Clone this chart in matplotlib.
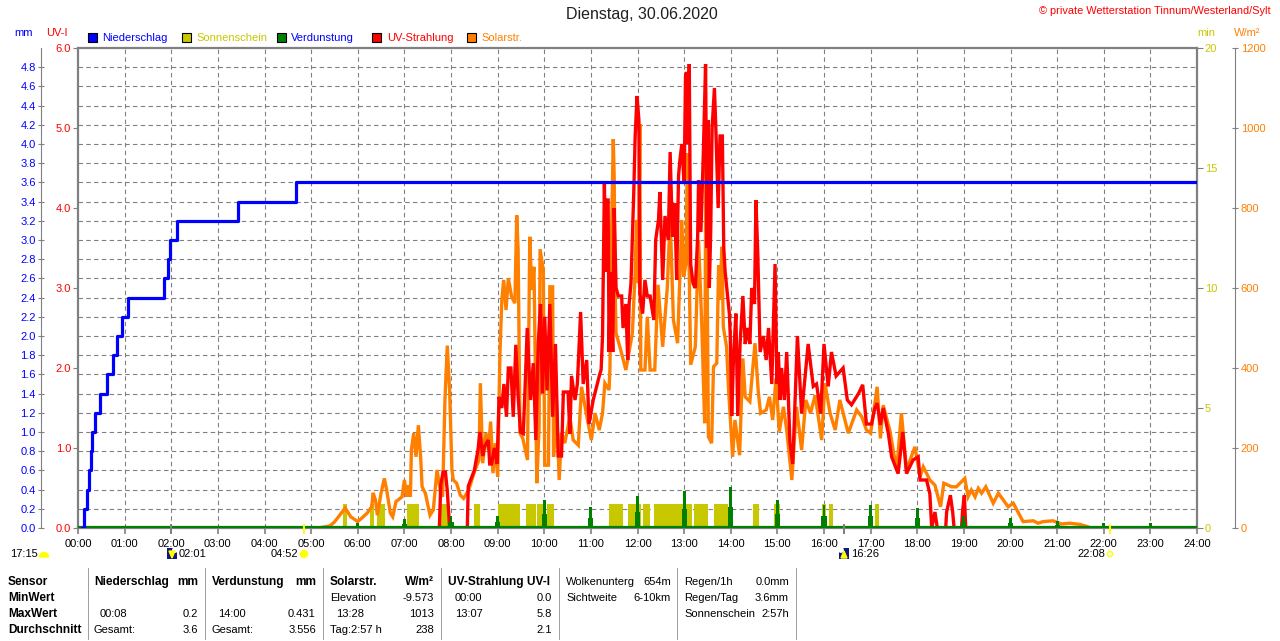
import matplotlib
matplotlib.use("Agg")
import matplotlib.pyplot as plt
from matplotlib.patches import Rectangle, Circle, Polygon, Wedge
from matplotlib.transforms import IdentityTransform

plt.rcParams['font.family'] = ['Liberation Sans', 'DejaVu Sans']

nan = float('nan')

# Niederschlag, cumulated (h, mm)
rain_t = [0.08, 0.13, 0.2, 0.24, 0.27, 0.3, 0.36, 0.47, 0.62, 0.75, 0.84, 0.94, 1.07, 1.84, 1.93, 1.97, 2.12, 3.43, 4.68, 24]
rain_v = [0, 0.2, 0.4, 0.6, 0.8, 1.0, 1.2, 1.4, 1.6, 1.8, 2.0, 2.2, 2.4, 2.6, 2.8, 3.0, 3.2, 3.4, 3.6, 3.6]

# Verdunstung per hour (mm)
evap_h = [1, 2, 3, 4, 5, 6, 7, 8, 9, 10, 11, 12, 13, 14, 15, 16, 17, 18, 19, 20, 21, 22, 23]
evap_v = [0.01, 0.02, 0.01, 0.01, 0.01, 0.05, 0.09, 0.12, 0.12, 0.295, 0.215, 0.33, 0.39, 0.431, 0.29, 0.24, 0.24, 0.21, 0.13, 0.1, 0.07, 0.05, 0.05]

# Sonnenschein blocks (h)
sun_start = [5.69, 6.26, 6.41, 7.06, 7.79, 8.49, 9.01, 9.61, 9.84, 10.06, 11.39, 11.8, 12.12, 12.36, 13.21, 13.64, 14.48, 14.93, 15.96, 16.11, 17.09]
sun_end = [5.76, 6.35, 6.58, 7.31, 7.93, 8.62, 9.48, 9.82, 9.98, 10.21, 11.69, 12.08, 12.27, 13.17, 13.51, 13.94, 14.61, 15.06, 16.04, 16.19, 17.18]

# Solarstrahlung (h, W/m2)
solar_t = [5.15, 5.4, 5.5, 5.6, 5.73, 5.85, 6.0, 6.08, 6.2, 6.3, 6.33, 6.38, 6.42, 6.5, 6.57, 6.62, 6.7, 6.75, 6.82, 6.95,
           7.0, 7.05, 7.08, 7.13, 7.15, 7.2, 7.25, 7.3, 7.35, 7.38, 7.45, 7.55, 7.62, 7.7, 7.78, 7.82, 7.87, 7.92, 7.97, 8.02,
           8.05, 8.12, 8.2, 8.27, 8.38, 8.5, 8.6, 8.63, 8.68, 8.75, 8.8, 8.85, 8.9, 8.95, 9.0, 9.05, 9.09, 9.13, 9.18, 9.23,
           9.3, 9.37, 9.41, 9.44, 9.48, 9.54, 9.64, 9.69, 9.73, 9.78, 9.84, 9.89, 9.91, 9.98, 10.01, 10.09, 10.12, 10.18, 10.2, 10.26,
           10.32, 10.37, 10.44, 10.55, 10.62, 10.73, 10.8, 10.9, 11.01, 11.09, 11.18, 11.25, 11.3, 11.39, 11.41, 11.44, 11.48, 11.5, 11.52, 11.54,
           11.64, 11.75, 11.89, 11.95, 11.98, 12.02, 12.05, 12.07, 12.16, 12.21, 12.27, 12.37, 12.44, 12.54, 12.64, 12.7, 12.77, 12.86, 12.95, 12.99,
           13.04, 13.07, 13.14, 13.24, 13.31, 13.38, 13.44, 13.47, 13.49, 13.52, 13.59, 13.63, 13.7, 13.74, 13.77, 13.81, 13.84, 13.91, 13.95, 14.04,
           14.09, 14.19, 14.26, 14.31, 14.41, 14.52, 14.59, 14.64, 14.76, 14.83, 14.9, 14.97, 15.04, 15.13, 15.2, 15.31, 15.41, 15.52, 15.61, 15.71,
           15.81, 15.95, 16.02, 16.13, 16.24, 16.34, 16.52, 16.7, 16.81, 16.91, 17.0, 17.14, 17.21, 17.27, 17.41, 17.56, 17.66, 17.77, 17.95, 18.06,
           18.13, 18.27, 18.38, 18.5, 18.57, 18.74, 18.84, 19.02, 19.09, 19.16, 19.24, 19.31, 19.38, 19.47, 19.63, 19.74, 19.95, 20.06, 20.27, 20.49,
           20.59, 20.7, 20.91, 21.09, 21.27, 21.49, 21.66, 21.72]
solar_v = [0, 5, 15, 30, 50, 28, 16, 24, 37, 53, 88, 70, 32, 87, 124, 95, 37, 28, 66, 78,
           120, 78, 107, 78, 195, 237, 178, 257, 175, 103, 87, 32, 45, 145, 87, 78, 320, 456, 345, 145,
           120, 112, 82, 74, 95, 140, 170, 362, 162, 237, 195, 266, 137, 212, 128, 437, 570, 620, 545, 624,
           578, 562, 782, 695, 237, 224, 170, 728, 595, 653, 112, 253, 697, 645, 157, 157, 603, 603, 178, 320,
           120, 237, 212, 278, 220, 207, 353, 287, 220, 287, 245, 287, 362, 345, 403, 712, 972, 877, 595, 487,
           445, 395, 487, 640, 770, 612, 1010, 395, 395, 528, 395, 395, 608, 453, 603, 777, 520, 462, 770, 628,
           662, 937, 408, 453, 720, 503, 262, 1013, 695, 228, 212, 403, 412, 657, 570, 703, 503, 453, 353, 178,
           270, 182, 424, 328, 316, 462, 341, 287, 295, 328, 270, 374, 241, 303, 245, 120, 303, 195, 320, 287,
           332, 220, 362, 287, 245, 320, 237, 295, 278, 245, 237, 353, 224, 307, 245, 145, 287, 145, 203, 128,
           153, 120, 107, 53, 112, 103, 103, 124, 78, 95, 78, 99, 87, 103, 62, 87, 53, 62, 16, 18,
           12, 16, 18, 10, 12, 9, 3, 0]

# UV-Strahlung (h, UV-I), nan where the curve stays on the zero line
uv_t = [7.75, 7.78, 7.83, 7.88, 7.92, 7.97, 8.1, 8.35, 8.37, 8.42, 8.5, 8.58, 8.62, 8.68, 8.72, 8.8, 8.83, 8.87, 8.93, 8.99,
        9.03, 9.09, 9.135, 9.19, 9.23, 9.285, 9.335, 9.39, 9.44, 9.49, 9.55, 9.585, 9.635, 9.705, 9.765, 9.82, 9.87, 9.92, 9.96, 10.01,
        10.06, 10.12, 10.18, 10.24, 10.3, 10.37, 10.41, 10.51, 10.55, 10.585, 10.66, 10.71, 10.78, 10.835, 10.91, 10.96, 11.05, 11.18, 11.22, 11.25,
        11.27, 11.29, 11.32, 11.34, 11.37, 11.39, 11.42, 11.47, 11.5, 11.54, 11.59, 11.66, 11.69, 11.75, 11.79, 11.82, 11.86, 11.89, 11.92, 11.95,
        11.99, 12.03, 12.05, 12.11, 12.16, 12.21, 12.27, 12.35, 12.39, 12.45, 12.48, 12.54, 12.59, 12.66, 12.7, 12.75, 12.8, 12.84, 12.88, 12.91,
        12.95, 13.0, 13.03, 13.05, 13.08, 13.11, 13.14, 13.19, 13.24, 13.29, 13.31, 13.36, 13.41, 13.46, 13.49, 13.52, 13.54, 13.57, 13.6, 13.65,
        13.68, 13.73, 13.77, 13.82, 13.85, 13.88, 13.97, 13.99, 14.02, 14.06, 14.11, 14.15, 14.2, 14.26, 14.31, 14.36, 14.41, 14.45, 14.51, 14.54,
        14.58, 14.63, 14.7, 14.76, 14.81, 14.88, 14.95, 14.99, 15.02, 15.06, 15.09, 15.15, 15.2, 15.27, 15.33, 15.43, 15.52, 15.66, 15.77, 15.84,
        15.93, 16.0, 16.09, 16.16, 16.26, 16.41, 16.5, 16.59, 16.74, 16.83, 16.91, 17.02, 17.09, 17.14, 17.21, 17.27, 17.38, 17.45, 17.59, 17.69,
        17.77, 17.91, 18.02, 18.06, 18.2, 18.27, 18.31, 18.38, 18.43, 18.5, 18.61, 18.63, 18.71, 18.76, 18.79, 18.9, 18.95, 18.97, 19.01, 19.04]
uv_v = [0, 0.54, 0.7, 0.7, 0.47, 0, nan, 0, 0.52, 0.6, 0.72, 0.98, 1.2, 0.9, 1.02, 1.1, 0.8, 0.8, 1.0, 0.8,
        1.64, 1.5, 1.8, 1.39, 2.0, 2.0, 1.39, 2.29, 1.64, 1.2, 1.18, 1.7, 2.5, 1.6, 2.06, 1.1, 2.29, 2.8, 1.68, 2.64,
        1.72, 2.8, 1.39, 2.3, 0.9, 0.9, 1.7, 1.7, 1.18, 1.9, 1.6, 1.8, 2.7, 1.8, 2.1, 1.3, 1.6, 1.9, 1.98, 2.4,
        3.39, 4.3, 3.2, 4.1, 4.1, 2.2, 3.2, 2.2, 4.0, 3.0, 2.9, 2.9, 2.5, 2.8, 2.1, 2.8, 3.06, 3.64, 4.2, 4.9,
        5.4, 5.1, 2.93, 2.68, 3.1, 2.9, 2.9, 2.6, 3.6, 3.85, 4.2, 3.1, 3.9, 3.6, 4.7, 3.64, 4.06, 3.1, 4.4, 4.6,
        4.8, 4.3, 5.64, 5.7, 4.8, 5.8, 3.3, 3.06, 3.0, 3.64, 4.35, 3.7, 4.64, 5.8, 3.5, 5.1, 3.0, 3.7, 5.0, 5.5,
        5.0, 4.0, 4.9, 4.9, 3.5, 3.2, 2.68, 2.4, 1.4, 2.14, 2.68, 1.4, 2.3, 2.9, 2.3, 2.5, 2.3, 3.0, 2.8, 4.1,
        3.43, 2.2, 2.4, 2.1, 2.5, 1.8, 3.3, 1.8, 2.2, 1.6, 2.0, 1.6, 2.2, 1.06, 0.8, 2.4, 1.43, 2.3, 1.77, 1.8,
        1.43, 2.3, 1.77, 2.2, 1.9, 2.0, 1.6, 1.54, 1.68, 1.79, 1.3, 1.3, 1.5, 1.56, 1.29, 1.5, 1.18, 0.89, 0.68, 1.2,
        0.68, 0.85, 0.89, 0.6, 0.6, 0.43, 0, 0.2, 0, nan, 0, 0.2, 0.41, 0.2, 0, nan, 0, 0.2, 0.41, 0]

hour_labels = ['%02d:00' % h for h in range(25)]
mm_ticks = [i * 0.2 for i in range(25)]
uv_ticks = [0, 1, 2, 3, 4, 5, 6]
min_ticks = [0, 5, 10, 15, 20]
wm_ticks = [0, 200, 400, 600, 800, 1000, 1200]

BLUE = '#0000ff'
RED = '#ff0000'
ORANGE = '#ff8000'
OLIVE = '#c8c800'
GREEN = '#008000'
GREY = '#808080'
W, H = 1280, 641
FS = 8
BOLD = 8.6

fig = plt.figure(figsize=(W / 100, H / 100), dpi=100, facecolor='white')
rect = [78 / W, (H - 528) / H, (1197 - 78) / W, 480 / H]

# one axes per scale, later ones draw on top
ax_min = fig.add_axes(rect)
ax_solar = fig.add_axes(rect, sharex=ax_min)
ax_uv = fig.add_axes(rect, sharex=ax_min)
ax_mm = fig.add_axes(rect, sharex=ax_min)

ax_min.set_xlim(0, 24)
ax_min.set_ylim(0, 20)
ax_solar.set_ylim(0, 1200)
ax_uv.set_ylim(0, 6)
ax_mm.set_ylim(0, 5)

# grid
for h in range(1, 24):
    ax_min.axvline(h, color=GREY, lw=0.8, dashes=(4, 3), zorder=0)
for v in mm_ticks[1:]:
    ax_min.axhline(v * 4, color=GREY, lw=0.8, dashes=(4, 3), zorder=0)

# sunshine bars
widths = [e - s for s, e in zip(sun_start, sun_end)]
ax_min.bar(sun_start, [1] * len(sun_start), width=widths, align='edge', color=OLIVE, zorder=2)

ax_solar.plot(solar_t, solar_v, color=ORANGE, lw=2.4, solid_joinstyle='miter')
ax_uv.plot(uv_t, uv_v, color=RED, lw=2.4, solid_joinstyle='miter')

# evaporation spikes: narrow top, wider foot
ax_mm.bar(evap_h, evap_v, width=0.06, color=GREEN, zorder=2)
ax_mm.bar(evap_h, [v * 0.5 for v in evap_v], width=0.11, color=GREEN, zorder=2)
ax_mm.axhline(0.01, color=GREEN, lw=1.6, zorder=3)
ax_mm.plot(rain_t, rain_v, color=BLUE, lw=2.3, drawstyle='steps-post', zorder=4)

# axes, ticks
ax_min.set_xticks(range(25))
ax_min.set_xticklabels(hour_labels, fontsize=FS)
ax_min.tick_params(axis='x', length=4, color=GREY, pad=4, width=1.2)
ax_min.yaxis.tick_right()
ax_min.set_yticks(min_ticks)
ax_min.tick_params(axis='y', labelcolor=OLIVE, labelsize=FS, length=4, color=GREY, pad=1.5)
for s in ax_min.spines.values():
    s.set_color(GREY)
    s.set_linewidth(1.6)

for a in (ax_solar, ax_uv, ax_mm):
    a.patch.set_visible(False)
    a.tick_params(axis='x', bottom=False, labelbottom=False)
    for s in a.spines.values():
        s.set_visible(False)

ax_solar.yaxis.tick_right()
ax_solar.set_yticks(wm_ticks)
ax_solar.spines['right'].set_visible(True)
ax_solar.spines['right'].set_position(('outward', 27.4))
ax_solar.spines['right'].set_color(GREY)
ax_solar.tick_params(axis='y', labelcolor=ORANGE, labelsize=FS, length=5, direction='inout', color=GREY, pad=1.5)

ax_uv.set_yticks(uv_ticks)
ax_uv.set_yticklabels(['%.1f' % v for v in uv_ticks])
ax_uv.tick_params(axis='y', labelcolor=RED, labelsize=FS, length=3.5, color=GREY, pad=1.5)

ax_mm.set_yticks(mm_ticks)
ax_mm.set_yticklabels(['%.1f' % v for v in mm_ticks])
ax_mm.spines['left'].set_visible(True)
ax_mm.spines['left'].set_position(('outward', 27))
ax_mm.spines['left'].set_color(GREY)
ax_mm.tick_params(axis='y', labelcolor=BLUE, labelsize=FS, length=5, direction='inout', color=GREY, pad=1)


def txt(x, y, s, color='black', ha='left', size=FS, weight='normal'):
    fig.text(x / W, (H - y) / H, s, color=color, ha=ha, va='center', fontsize=size, fontweight=weight)


def box(x, y, w, h, color, edge=None, lw=0):
    fig.add_artist(Rectangle((x, H - y - h), w, h, transform=IdentityTransform(),
                             facecolor=color, edgecolor=edge, linewidth=lw))


txt(642, 15, 'Dienstag, 30.06.2020', color='#202020', ha='center', size=11.5)
txt(1039, 11, '\u00a9 private Wetterstation Tinnum/Westerland/Sylt', color=RED, size=7.9)

# legend
legend_x = [88, 182, 277, 372, 467]
legend_txt_x = [102, 196, 291, 387, 481]
legend_names = ['Niederschlag', 'Sonnenschein', 'Verdunstung', 'UV-Strahlung', 'Solarstr.']
legend_box = [BLUE, OLIVE, GREEN, RED, ORANGE]
legend_col = [BLUE, OLIVE, BLUE, RED, ORANGE]
for x, tx, name, bc, tc in zip(legend_x, legend_txt_x, legend_names, legend_box, legend_col):
    box(x, 33, 9, 9, bc, edge='black', lw=0.8)
    txt(tx, 38, name, color=tc)

txt(14, 33, 'mm', color=BLUE)
txt(46, 33, 'UV-I', color=RED)
txt(1197, 33, 'min', color=OLIVE)
txt(1234, 33, 'W/m\u00b2', color=ORANGE)

# sun and moon times under the axis
txt(10, 554, '17:15')
txt(179, 554, '02:01')
txt(271, 554, '04:52')
txt(851, 554, '16:26')
txt(1077, 554, '22:08')

fig.add_artist(Wedge((44, H - 557), 4.5, 0, 180, transform=IdentityTransform(), color='#ffff00'))
fig.add_artist(Circle((304, H - 554), 3.5, transform=IdentityTransform(), color='#ffff00'))
fig.add_artist(Circle((1110, H - 554), 2.5, transform=IdentityTransform(), facecolor='white', edgecolor='#ffff00', lw=1))
for x, tip in ((167, 0), (839, 1)):
    box(x, 548, 10, 11, '#101880')
    fig.add_artist(Circle((x + (8 if tip == 0 else 2), H - 550), 2.2, transform=IdentityTransform(), color='white'))
    ys = (H - 558, H - 551) if tip == 0 else (H - 551, H - 558)
    fig.add_artist(Polygon([(x + 2, ys[1]), (x + 8, ys[1]), (x + 5, ys[0])], transform=IdentityTransform(), color='#ffff00'))
box(303, 524, 2, 10, '#ffff00')
box(1109, 524, 2, 10, '#ffff00')
box(170, 524, 2, 10, GREY)
box(843, 524, 2, 10, GREY)

# table below the chart
rows = [582, 598, 614, 630]
for x in [88, 205, 323, 441, 559, 677, 796]:
    box(x, 568, 1, 72, '#a0a0a0')

for y, s in zip(rows, ['Sensor', 'MinWert', 'MaxWert', 'Durchschnitt']):
    txt(8, y, s, weight='bold', size=BOLD)

txt(94, rows[0], 'Niederschlag', weight='bold', size=BOLD)
txt(198, rows[0], 'mm', ha='right', weight='bold', size=BOLD)
txt(100, rows[2], '00:08')
txt(198, rows[2], '0.2', ha='right')
txt(94, rows[3], 'Gesamt:')
txt(198, rows[3], '3.6', ha='right')

txt(212, rows[0], 'Verdunstung', weight='bold', size=BOLD)
txt(316, rows[0], 'mm', ha='right', weight='bold', size=BOLD)
txt(218, rows[2], '14:00')
txt(315, rows[2], '0.431', ha='right')
txt(212, rows[3], 'Gesamt:')
txt(316, rows[3], '3.556', ha='right')

txt(330, rows[0], 'Solarstr.', weight='bold', size=BOLD)
txt(434, rows[0], 'W/m\u00b2', ha='right', weight='bold', size=BOLD)
txt(330, rows[1], 'Elevation')
txt(434, rows[1], '-9.573', ha='right')
txt(336, rows[2], '13:28')
txt(434, rows[2], '1013', ha='right')
txt(330, rows[3], 'Tag:2:57 h')
txt(434, rows[3], '238', ha='right')

txt(448, rows[0], 'UV-Strahlung UV-I', weight='bold', size=BOLD)
txt(455, rows[1], '00:00')
txt(552, rows[1], '0.0', ha='right')
txt(455, rows[2], '13:07')
txt(552, rows[2], '5.8', ha='right')
txt(552, rows[3], '2.1', ha='right')

txt(566, rows[0], 'Wolkenunterg')
txt(671, rows[0], '654m', ha='right')
txt(566, rows[1], 'Sichtweite')
txt(671, rows[1], '6-10km', ha='right')

txt(684, rows[0], 'Regen/1h')
txt(789, rows[0], '0.0mm', ha='right')
txt(684, rows[1], 'Regen/Tag')
txt(789, rows[1], '3.6mm', ha='right')
txt(684, rows[2], 'Sonnenschein')
txt(789, rows[2], '2:57h', ha='right')

print(len(solar_t), len(solar_v), len(uv_t), len(uv_v))
fig.savefig('out.png', dpi=100)
